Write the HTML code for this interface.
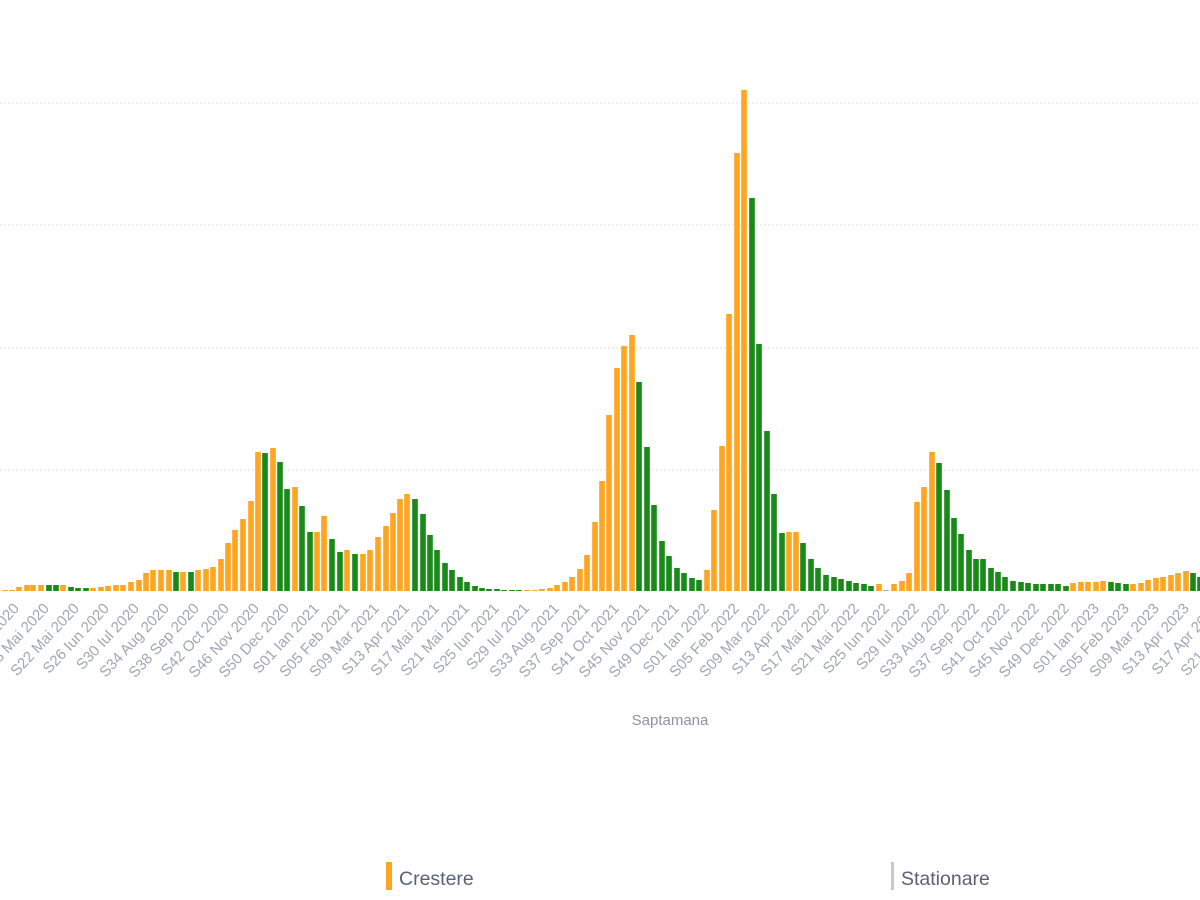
<!DOCTYPE html>
<html><head><meta charset="utf-8"><style>
html,body{margin:0;padding:0;background:#fff;width:1200px;height:900px;overflow:hidden}
svg{display:block}
.l{font-family:"Liberation Sans",sans-serif;font-size:15px;fill:#a0a6b4}
</style></head><body>
<svg id="s" width="1200" height="900" viewBox="0 0 1200 900" xmlns="http://www.w3.org/2000/svg">
<g stroke="#dcdcdc" stroke-width="1" stroke-dasharray="2,2">
<line x1="0" y1="103" x2="1200" y2="103"/>
<line x1="0" y1="225" x2="1200" y2="225"/>
<line x1="0" y1="348" x2="1200" y2="348"/>
<line x1="0" y1="470" x2="1200" y2="470"/>
</g>
<g id="bars"></g>
<g class="l" text-anchor="end">
<text transform="translate(20,609) rotate(-47)">S14 Apr 2020</text>
<text transform="translate(50,609) rotate(-47)">S18 Mai 2020</text>
<text transform="translate(80,609) rotate(-47)">S22 Mai 2020</text>
<text transform="translate(110,609) rotate(-47)">S26 Iun 2020</text>
<text transform="translate(140,609) rotate(-47)">S30 Iul 2020</text>
<text transform="translate(170,609) rotate(-47)">S34 Aug 2020</text>
<text transform="translate(200,609) rotate(-47)">S38 Sep 2020</text>
<text transform="translate(230,609) rotate(-47)">S42 Oct 2020</text>
<text transform="translate(260,609) rotate(-47)">S46 Nov 2020</text>
<text transform="translate(290,609) rotate(-47)">S50 Dec 2020</text>
<text transform="translate(320,609) rotate(-47)">S01 Ian 2021</text>
<text transform="translate(350,609) rotate(-47)">S05 Feb 2021</text>
<text transform="translate(380,609) rotate(-47)">S09 Mar 2021</text>
<text transform="translate(410,609) rotate(-47)">S13 Apr 2021</text>
<text transform="translate(440,609) rotate(-47)">S17 Mai 2021</text>
<text transform="translate(470,609) rotate(-47)">S21 Mai 2021</text>
<text transform="translate(500,609) rotate(-47)">S25 Iun 2021</text>
<text transform="translate(530,609) rotate(-47)">S29 Iul 2021</text>
<text transform="translate(560,609) rotate(-47)">S33 Aug 2021</text>
<text transform="translate(590,609) rotate(-47)">S37 Sep 2021</text>
<text transform="translate(620,609) rotate(-47)">S41 Oct 2021</text>
<text transform="translate(650,609) rotate(-47)">S45 Nov 2021</text>
<text transform="translate(680,609) rotate(-47)">S49 Dec 2021</text>
<text transform="translate(710,609) rotate(-47)">S01 Ian 2022</text>
<text transform="translate(740,609) rotate(-47)">S05 Feb 2022</text>
<text transform="translate(770,609) rotate(-47)">S09 Mar 2022</text>
<text transform="translate(800,609) rotate(-47)">S13 Apr 2022</text>
<text transform="translate(830,609) rotate(-47)">S17 Mai 2022</text>
<text transform="translate(860,609) rotate(-47)">S21 Mai 2022</text>
<text transform="translate(890,609) rotate(-47)">S25 Iun 2022</text>
<text transform="translate(920,609) rotate(-47)">S29 Iul 2022</text>
<text transform="translate(950,609) rotate(-47)">S33 Aug 2022</text>
<text transform="translate(980,609) rotate(-47)">S37 Sep 2022</text>
<text transform="translate(1010,609) rotate(-47)">S41 Oct 2022</text>
<text transform="translate(1040,609) rotate(-47)">S45 Nov 2022</text>
<text transform="translate(1070,609) rotate(-47)">S49 Dec 2022</text>
<text transform="translate(1100,609) rotate(-47)">S01 Ian 2023</text>
<text transform="translate(1130,609) rotate(-47)">S05 Feb 2023</text>
<text transform="translate(1160,609) rotate(-47)">S09 Mar 2023</text>
<text transform="translate(1190,609) rotate(-47)">S13 Apr 2023</text>
<text transform="translate(1220,609) rotate(-47)">S17 Apr 2023</text>
<text transform="translate(1250,609) rotate(-47)">S21 Mai 2023</text>
</g>
<text x="670" y="725" text-anchor="middle" font-family="Liberation Sans,sans-serif" font-size="15" fill="#8a93a6">Saptamana</text>
<rect x="386" y="862" width="6" height="28" fill="#ffa520"/>
<text x="399" y="885" font-family="Liberation Sans,sans-serif" font-size="19.5" fill="#5a6275">Crestere</text>
<rect x="891" y="862" width="3" height="28" fill="#c8c8c8"/>
<text x="901" y="885" font-family="Liberation Sans,sans-serif" font-size="19.5" fill="#5a6275">Stationare</text>
</svg>
<script>
var d="5 1 o;12 1 o;19 4 o;27 6 o;33 6 o;41 6 o;49 6 g;56 6 g;63 6 o;71 4 g;78 3 g;86 3 g;93 3 o;101 4 o;108 5 o;116 6 o;123 6 o;131 9 o;139 11 o;146 18 o;153 21 o;161 21 o;169 21 o;176 19 g;183 19 o;191 19 g;198 21 o;206 22 o;213 24 o;221 32 o;228 48 o;235 61 o;243 72 o;251 90 o;258 139 o;265 138 g;273 143 o;280 129 g;287 102 g;295 104 o;302 85 g;310 59 g;317 59 o;324 75 o;332 52 g;340 39 g;347 41 o;355 37 g;363 37 o;370 41 o;378 54 o;386 65 o;393 78 o;400 92 o;407 97 o;415 92 g;423 77 g;430 56 g;437 41 g;445 28 g;452 21 g;460 14 g;467 9 g;475 5 g;482 3 g;489 2 g;497 2 g;504 1 g;512 1 g;519 1 g;527 1 o;535 1 o;542 2 o;550 3 o;557 6 o;565 9 o;572 14 o;580 22 o;587 36 o;595 69 o;602 110 o;609 176 o;617 223 o;624 245 o;632 256 o;639 209 g;647 144 g;654 86 g;662 50 g;669 35 g;677 23 g;684 18 g;692 13 g;699 11 g;707 21 o;714 81 o;722 145 o;729 277 o;737 438 o;744 501 o;752 393 g;759 247 g;767 160 g;774 97 g;782 58 g;789 59 o;796 59 o;803 48 g;811 32 g;818 23 g;826 16 g;834 14 g;841 12 g;849 10 g;856 8 g;864 7 g;871 5 g;879 7 o;886 1 s;894 7 o;902 10 o;909 18 o;917 89 o;924 104 o;932 139 o;939 128 g;947 101 g;954 73 g;961 57 g;969 41 g;976 32 g;983 32 g;991 23 g;998 19 g;1005 14 g;1013 10 g;1021 9 g;1028 8 g;1036 7 g;1043 7 g;1051 7 g;1058 7 g;1066 5 g;1073 8 o;1081 9 o;1088 9 o;1096 9 o;1103 10 o;1111 9 g;1118 8 g;1126 7 g;1133 7 o;1141 8 o;1148 11 o;1156 13 o;1163 14 o;1171 16 o;1178 18 o;1186 20 o;1193 18 g;1200 14 g";
var c={o:"#ffa520",g:"#188a18",s:"#aaaaaa"},h="";
d.split(";").forEach(function(e){var p=e.split(" "),x=+p[0],v=+p[1];
h+='<rect x="'+(x-2.8)+'" y="'+(591-v)+'" width="5.6" height="'+v+'" fill="'+c[p[2]]+'"/>';});
document.getElementById("bars").innerHTML=h;
</script>
</body></html>
